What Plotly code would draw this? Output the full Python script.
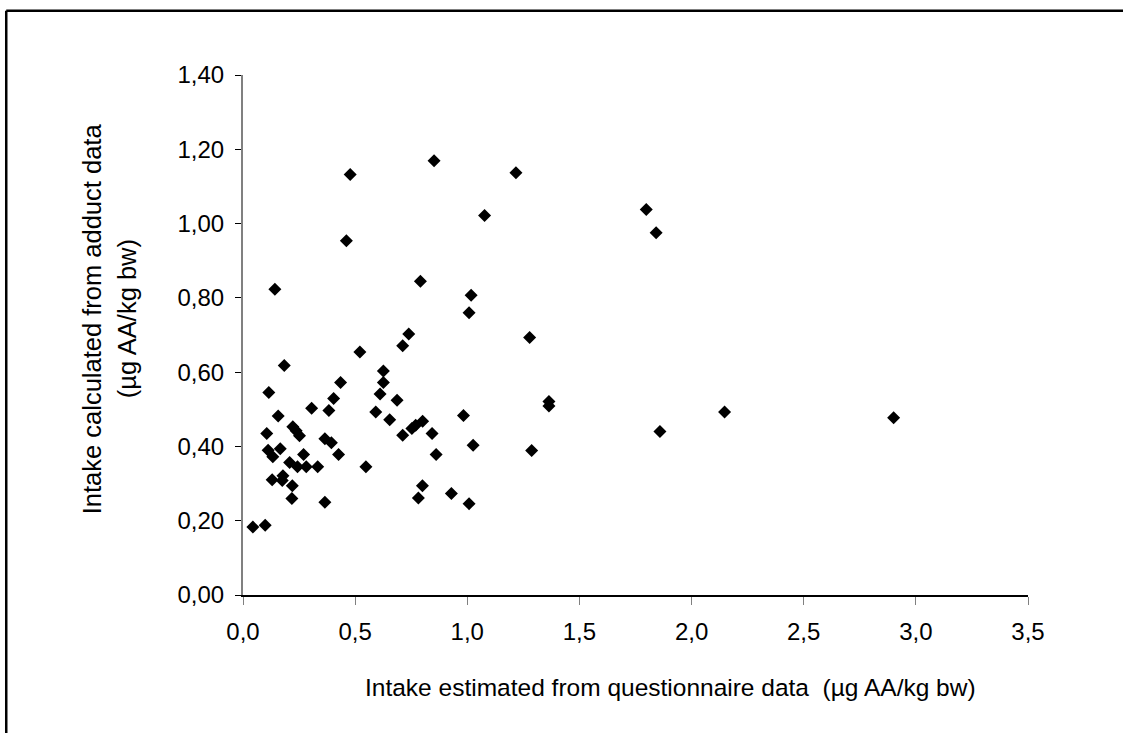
import plotly.graph_objects as go

# questionnaire-based intake (x) vs adduct-based intake (y), µg AA/kg bw
questionnaire = [
    0.142, 0.478, 0.852, 1.217, 1.077, 0.461, 0.791, 1.017, 1.008, 0.739,
    0.712, 1.278, 0.521, 1.798, 1.842, 2.147, 1.859, 2.901, 0.184, 0.626,
    0.435, 0.626, 0.115, 0.611, 0.404, 0.687, 1.364, 1.364, 0.306, 0.383,
    0.592, 0.157, 0.983, 0.654, 0.801, 0.770, 0.753, 0.222, 0.237, 0.252,
    0.106, 0.843, 0.712, 0.365, 0.394, 1.026, 0.112, 0.166, 0.133, 0.270,
    0.426, 0.861, 1.287, 0.208, 0.243, 0.282, 0.333, 0.548, 0.130, 0.178,
    0.175, 0.220, 0.800, 0.218, 0.365, 0.782, 0.929, 1.008, 0.044, 0.099,
]
adduct = [
    0.823, 1.132, 1.169, 1.137, 1.022, 0.954, 0.845, 0.807, 0.760, 0.703,
    0.671, 0.693, 0.654, 1.038, 0.975, 0.493, 0.440, 0.477, 0.618, 0.603,
    0.572, 0.572, 0.545, 0.541, 0.529, 0.524, 0.521, 0.509, 0.503, 0.497,
    0.493, 0.482, 0.483, 0.472, 0.468, 0.457, 0.448, 0.453, 0.442, 0.429,
    0.435, 0.435, 0.430, 0.421, 0.410, 0.403, 0.390, 0.394, 0.372, 0.378,
    0.378, 0.378, 0.389, 0.357, 0.345, 0.345, 0.345, 0.345, 0.310, 0.321,
    0.308, 0.294, 0.294, 0.260, 0.250, 0.261, 0.273, 0.246, 0.183, 0.188,
]

x_title = "Intake estimated from questionnaire data  (µg AA/kg bw)"
y_title_lines = ["Intake calculated from adduct data", "(µg AA/kg bw)"]

font = "Liberation Sans, Arial, sans-serif"

fig = go.Figure()
fig.add_trace(
    go.Scatter(
        x=questionnaire,
        y=adduct,
        mode="markers",
        marker=dict(symbol="diamond", size=10, color="black"),
        showlegend=False,
    )
)

fig.update_layout(
    width=1123,
    height=733,
    margin=dict(l=243, r=95, t=75, b=138),
    paper_bgcolor="white",
    plot_bgcolor="white",
    separators=",.",
    font=dict(family=font, size=24, color="black"),
    xaxis=dict(
        range=[0, 3.5],
        dtick=0.5,
        tickformat=".1f",
        showgrid=False,
        zeroline=False,
        showline=True,
        linecolor="black",
        linewidth=1.5,
        ticks="outside",
        ticklen=8,
        tickcolor="#808080",
        ticklabelstandoff=6,
    ),
    yaxis=dict(
        range=[0, 1.4],
        dtick=0.2,
        tickformat=".2f",
        showgrid=False,
        zeroline=False,
        showline=True,
        linecolor="#808080",
        linewidth=2,
        ticks="outside",
        ticklen=6,
        tickcolor="black",
        ticklabelstandoff=6,
    ),
)

# axis titles
fig.add_annotation(text=x_title, xref="paper", yref="paper", x=0.544, y=-0.177,
                   xanchor="center", yanchor="middle",
                   showarrow=False, font=dict(size=24.5))
for xpos, line in zip([-0.1919, -0.1473], y_title_lines):
    fig.add_annotation(text=line, xref="paper", yref="paper", x=xpos, y=0.531,
                       xanchor="center", yanchor="middle",
                       textangle=-90, showarrow=False, font=dict(size=25.5))

# outer chart frame: only top and left edges visible in the picture
fig.add_shape(type="line", xref="paper", yref="paper",
              x0=-0.3016, y0=1.1237, x1=1.13, y1=1.1237,
              line=dict(color="black", width=2.5))
fig.add_shape(type="line", xref="paper", yref="paper",
              x0=-0.3016, y0=1.1237, x1=-0.3016, y1=-0.28,
              line=dict(color="black", width=2.5))

fig.write_html("out.html", config={"displayModeBar": False},
               post_script="document.body.style.margin='0';")
